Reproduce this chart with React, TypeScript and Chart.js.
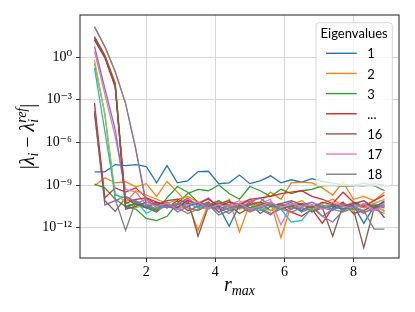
import React, { useEffect, useRef } from "react";
import { Chart, registerables } from "chart.js";

Chart.register(...registerables);

// r_max grid
const R_MAX = [0.5, 0.8, 1.1, 1.4, 1.7, 2.0, 2.3, 2.6, 2.9, 3.2, 3.5, 3.8, 4.1, 4.4, 4.7, 5.0, 5.3, 5.6, 5.9, 6.2, 6.5, 6.8, 7.1, 7.4, 7.7, 8.0, 8.3, 8.6, 8.9];

// log10 |λ_i − λ_i^ref| per eigenvalue
const ERR_1 = [-8.07, -8.07, -7.56, -7.63, -7.56, -7.7, -8.84, -7.63, -8.84, -8.7, -8.05, -8.03, -8.91, -8.84, -8.3, -8.9, -8.7, -8.35, -8.84, -8.63, -8.8, -8.55, -8.75, -8.86, -8.98, -9.0, -9.05, -8.9, -9.0];
const ERR_2 = [-9.05, -8.48, -8.84, -8.77, -9.12, -8.9, -9.8, -8.75, -9.5, -10.25, -12.2, -10.3, -10.5, -10.0, -12.3, -10.3, -10.2, -9.5, -10.0, -8.85, -8.8, -8.85, -9.2, -9.7, -8.8, -10.0, -9.8, -10.1, -9.5];
const ERR_3 = [-8.93, -9.2, -10.0, -10.5, -10.7, -11.35, -11.5, -11.2, -10.3, -9.6, -9.3, -9.4, -9.0, -9.6, -10.0, -9.1, -9.4, -9.8, -9.3, -9.6, -9.4, -9.3, -9.05, -9.0, -9.1, -9.05, -8.85, -9.05, -9.4];
const ERR_4 = [-3.24, -9.9, -9.2, -9.5, -9.2, -9.9, -10.4, -10.6, -10.1, -10.8, -10.5, -10.2, -10.9, -10.4, -11.0, -10.6, -10.3, -10.8, -10.5, -10.9, -11.2, -10.7, -11.7, -10.6, -10.2, -11.0, -10.8, -10.4, -11.3];
const ERR_5 = [-3.8, -10.4, -10.1, -9.8, -10.3, -10.0, -10.6, -10.2, -10.9, -10.5, -10.3, -9.9, -10.6, -11.0, -10.4, -10.1, -10.7, -11.1, -10.5, -10.2, -10.8, -10.4, -11.2, -10.7, -10.3, -10.6, -11.0, -10.5, -10.8];
const ERR_6 = [-3.95, -10.1, -10.85, -9.9, -10.4, -10.6, -10.9, -10.3, -10.6, -10.0, -12.6, -10.5, -10.2, -10.8, -10.6, -10.3, -11.0, -10.5, -10.4, -10.7, -10.3, -10.9, -10.6, -12.6, -10.4, -10.7, -13.4, -10.6, -10.1];
const ERR_7 = [0.4, -2.6, -5.6, -9.3, -9.5, -10.4, -10.2, -10.6, -10.3, -10.0, -10.5, -10.7, -10.2, -10.4, -10.1, -10.6, -10.3, -10.0, -11.8, -10.4, -10.6, -10.2, -10.5, -10.3, -10.8, -10.4, -10.1, -10.6, -10.3];
const ERR_8 = [-0.45, -4.0, -10.0, -12.2, -10.1, -10.5, -10.8, -10.3, -10.6, -11.0, -10.7, -10.4, -11.1, -10.8, -10.5, -10.9, -10.6, -11.0, -10.7, -10.4, -10.9, -10.6, -11.2, -11.6, -10.8, -10.5, -10.9, -10.7, -11.0];
const ERR_9 = [-0.19, -4.06, -9.6, -10.2, -10.6, -10.4, -10.7, -10.5, -10.3, -10.6, -10.8, -10.4, -10.6, -10.5, -10.7, -10.4, -10.6, -10.8, -10.5, -10.6, -10.4, -10.7, -10.5, -10.3, -10.6, -10.8, -10.5, -10.3, -10.9];
const ERR_10 = [-0.77, -5.2, -9.7, -9.9, -10.1, -11.0, -10.6, -10.4, -10.5, -10.3, -10.6, -10.4, -10.5, -10.7, -10.3, -10.6, -10.8, -10.5, -10.7, -11.6, -11.5, -10.6, -10.4, -10.7, -10.5, -10.3, -10.6, -10.4, -10.5];
const ERR_11 = [1.25, 0.0, -2.0, -10.5, -10.3, -10.6, -10.2, -10.5, -10.7, -10.4, -10.3, -10.6, -10.5, -11.9, -10.4, -10.7, -10.5, -10.3, -10.6, -10.5, -10.8, -10.4, -10.6, -10.5, -10.7, -10.4, -11.7, -10.5, -10.2];
const ERR_12 = [1.45, 0.15, -1.8, -10.2, -9.4, -9.7, -10.0, -10.3, -10.0, -9.8, -10.2, -10.4, -10.1, -10.6, -10.3, -10.0, -10.5, -10.2, -12.7, -10.4, -10.1, -10.6, -10.3, -10.0, -10.5, -10.2, -10.6, -10.3, -10.0];
const ERR_13 = [1.35, 0.05, -1.9, -10.6, -10.3, -10.5, -10.8, -9.9, -9.1, -9.5, -10.2, -10.4, -10.1, -10.5, -10.3, -10.6, -10.4, -10.2, -10.6, -10.5, -10.3, -10.5, -10.6, -10.4, -10.5, -10.7, -10.3, -10.5, -10.6];
const ERR_14 = [1.2, -0.05, -2.1, -10.3, -10.0, -9.9, -10.2, -10.4, -10.6, -10.1, -10.3, -10.0, -10.5, -10.2, -10.4, -10.0, -9.9, -9.8, -9.6, -9.5, -9.4, -9.8, -10.0, -10.3, -9.5, -10.2, -10.5, -10.1, -9.7];
const ERR_15 = [0.75, -2.2, -5.1, -9.8, -10.2, -10.5, -10.3, -10.6, -10.4, -9.9, -10.5, -10.3, -10.7, -10.4, -10.6, -10.2, -9.9, -10.5, -10.3, -10.7, -10.4, -10.2, -10.6, -10.8, -10.3, -10.5, -10.4, -10.7, -10.5];
const ERR_16 = [1.4, 0.1, -1.95, -10.7, -10.5, -10.2, -10.4, -10.1, -10.0, -10.3, -10.2, -10.5, -10.3, -10.1, -10.6, -10.4, -10.2, -10.5, -10.3, -10.1, -10.4, -10.6, -10.2, -10.4, -10.5, -10.3, -10.1, -10.6, -10.4];
const ERR_17 = [2.15, 0.75, -1.0, -3.24, -6.5, -10.2, -10.5, -10.3, -10.7, -10.4, -10.2, -10.6, -10.4, -10.5, -10.3, -10.7, -10.5, -10.2, -10.6, -10.3, -10.5, -10.4, -10.7, -10.2, -10.5, -10.6, -10.3, -10.8, -10.4];
const ERR_18 = [2.12, 0.72, -1.03, -3.27, -6.55, -10.4, -10.7, -10.5, -10.3, -10.6, -10.8, -10.4, -10.9, -10.6, -10.5, -10.8, -10.6, -10.4, -10.7, -10.9, -10.6, -10.8, -10.5, -10.7, -10.9, -10.6, -10.8, -12.1, -12.1];

const SERIES_LABELS = ["1", "2", "3", "4", "5", "6", "7", "8", "9", "10", "11", "12", "13", "14", "15", "16", "17", "18"];
const TAB10 = ["#1f77b4", "#ff7f0e", "#2ca02c", "#d62728", "#9467bd", "#8c564b", "#e377c2", "#7f7f7f", "#bcbd22", "#17becf"];

const LEGEND_TITLE = "Eigenvalues";
const LEGEND_LABELS = ["1", "2", "3", "...", "16", "17", "18"];
const LEGEND_SERIES = [0, 1, 2, 3, 15, 16, 17];

const X_TICKS = [2, 4, 6, 8];
const Y_TICK_VALUES = [1e-12, 1e-9, 1e-6, 1e-3, 1];
const Y_TICK_LABELS = ["10⁻¹²", "10⁻⁹", "10⁻⁶", "10⁻³", "10⁰"];
const X_MIN = 0.08;
const X_MAX = 9.32;
const Y_MIN = 7.4e-15;
const Y_MAX = 912;

const SERIF = "'Liberation Serif', 'DejaVu Serif', serif";
const SANS = "Lato, 'DejaVu Sans', sans-serif";
const GRID = "#d6d6d6";
const SPINE = "#333333";

type Run = { t: string; font: string; dy?: number; sup?: string; supDy?: number };

function drawRuns(ctx: CanvasRenderingContext2D, runs: Run[], x: number, y: number) {
  const widths = runs.map((r) => {
    ctx.font = r.font;
    let w = ctx.measureText(r.t).width;
    if (r.sup) w = Math.max(w, ctx.measureText(r.sup).width);
    return w;
  });
  const total = widths.reduce((a, b) => a + b, 0);
  let cx = x - total / 2;
  ctx.textAlign = "left";
  ctx.textBaseline = "alphabetic";
  runs.forEach((r, i) => {
    ctx.font = r.font;
    ctx.fillText(r.t, cx, y + (r.dy || 0));
    if (r.sup) ctx.fillText(r.sup, cx, y + (r.supDy || 0));
    cx += widths[i];
  });
}

const decorPlugin = {
  id: "decor",
  afterDatasetsDraw(chart: any) {
    const ctx: CanvasRenderingContext2D = chart.ctx;
    const ds = chart.data.datasets;
    ctx.save();
    // legend box
    const x0 = 316, y0 = 22.7, w = 76.3, h = 163.3;
    ctx.beginPath();
    (ctx as any).roundRect(x0, y0, w, h, 3);
    ctx.fillStyle = "rgba(255,255,255,0.8)";
    ctx.fill();
    ctx.strokeStyle = "rgba(204,204,204,0.8)";
    ctx.lineWidth = 1;
    ctx.stroke();
    ctx.fillStyle = "#000";
    ctx.font = `13px ${SANS}`;
    ctx.textAlign = "center";
    ctx.textBaseline = "middle";
    ctx.fillText(LEGEND_TITLE, x0 + w / 2, 34);
    LEGEND_LABELS.forEach((lab, k) => {
      const yy = 53.3 + k * 20.15;
      ctx.strokeStyle = ds[LEGEND_SERIES[k]].borderColor;
      ctx.lineWidth = 1.4;
      ctx.beginPath();
      ctx.moveTo(326, yy);
      ctx.lineTo(356.7, yy);
      ctx.stroke();
      ctx.fillStyle = "#000";
      ctx.textAlign = "left";
      ctx.font = `13px ${SANS}`;
      ctx.fillText(lab, 367.3, yy + 1);
    });
    ctx.restore();
  },
  afterDraw(chart: any) {
    const ctx: CanvasRenderingContext2D = chart.ctx;
    const ca = chart.chartArea;
    ctx.save();
    ctx.strokeStyle = SPINE;
    ctx.lineWidth = 1.1;
    ctx.strokeRect(ca.left, ca.top, ca.right - ca.left, ca.bottom - ca.top);
    ctx.fillStyle = "#000";
    // x title: r_max
    drawRuns(
      ctx,
      [
        { t: "r", font: `italic 20px ${SERIF}` },
        { t: "max", font: `italic 14px ${SERIF}`, dy: 4 },
      ],
      (ca.left + ca.right) / 2,
      291
    );
    // y title: |λ_i − λ_i^ref|
    ctx.translate(34, (ca.top + ca.bottom) / 2);
    ctx.rotate(-Math.PI / 2);
    drawRuns(
      ctx,
      [
        { t: "|", font: `20px ${SERIF}` },
        { t: "λ", font: `italic 20px ${SERIF}` },
        { t: "i", font: `italic 14px ${SERIF}`, dy: 4 },
        { t: " − ", font: `20px ${SERIF}` },
        { t: "λ", font: `italic 20px ${SERIF}` },
        { t: "i", font: `italic 14px ${SERIF}`, dy: 4, sup: "ref", supDy: -8 },
        { t: "|", font: `20px ${SERIF}` },
      ],
      0,
      0
    );
    ctx.restore();
  },
};

export default function App() {
  const ref = useRef<HTMLCanvasElement | null>(null);
  useEffect(() => {
    if (!ref.current) return;
    const ERRORS_LOG10 = [ERR_1, ERR_2, ERR_3, ERR_4, ERR_5, ERR_6, ERR_7, ERR_8, ERR_9, ERR_10, ERR_11, ERR_12, ERR_13, ERR_14, ERR_15, ERR_16, ERR_17, ERR_18];
    const datasets = ERRORS_LOG10.map((arr, i) => ({
      label: SERIES_LABELS[i],
      data: arr.map((e, j) => ({ x: R_MAX[j], y: Math.pow(10, e) })),
      borderColor: TAB10[i % 10],
      backgroundColor: TAB10[i % 10],
      borderWidth: 1.3,
      pointRadius: 0,
      tension: 0,
      fill: false,
      order: ERRORS_LOG10.length - 1 - i,
    }));
    const chart = new Chart(ref.current, {
      type: "line",
      data: { datasets },
      options: {
        animation: false,
        responsive: true,
        maintainAspectRatio: false,
        layout: { padding: { left: 0, top: 15, right: 16, bottom: 0 } },
        plugins: { legend: { display: false }, tooltip: { enabled: false }, title: { display: false } },
        scales: {
          x: {
            type: "linear",
            min: X_MIN,
            max: X_MAX,
            afterBuildTicks: (s: any) => {
              s.ticks = X_TICKS.map((v) => ({ value: v }));
            },
            afterFit: (s: any) => {
              s.height = 54;
            },
            grid: { color: GRID, lineWidth: 1, tickColor: SPINE, tickLength: 4 },
            border: { display: false },
            ticks: {
              autoSkip: false,
              maxRotation: 0,
              padding: 2,
              color: "#000",
              font: { family: SERIF, size: 14 },
              callback: (v: any) => String(v),
            },
          },
          y: {
            type: "logarithmic",
            min: Y_MIN,
            max: Y_MAX,
            afterBuildTicks: (s: any) => {
              s.ticks = Y_TICK_VALUES.map((v) => ({ value: v }));
            },
            afterFit: (s: any) => {
              s.width = 80;
            },
            grid: { color: GRID, lineWidth: 1, tickColor: SPINE, tickLength: 4 },
            border: { display: false },
            ticks: {
              autoSkip: false,
              padding: 4,
              color: "#000",
              font: { family: SERIF, size: 14 },
              callback: (_v: any, i: number) => Y_TICK_LABELS[i],
            },
          },
        },
      },
      plugins: [decorPlugin],
    } as any);
    return () => chart.destroy();
  }, []);
  return (
    <div style={{ position: "absolute", left: 0, top: 0, width: 415, height: 312, background: "#fff" }}>
      <canvas ref={ref} />
    </div>
  );
}
